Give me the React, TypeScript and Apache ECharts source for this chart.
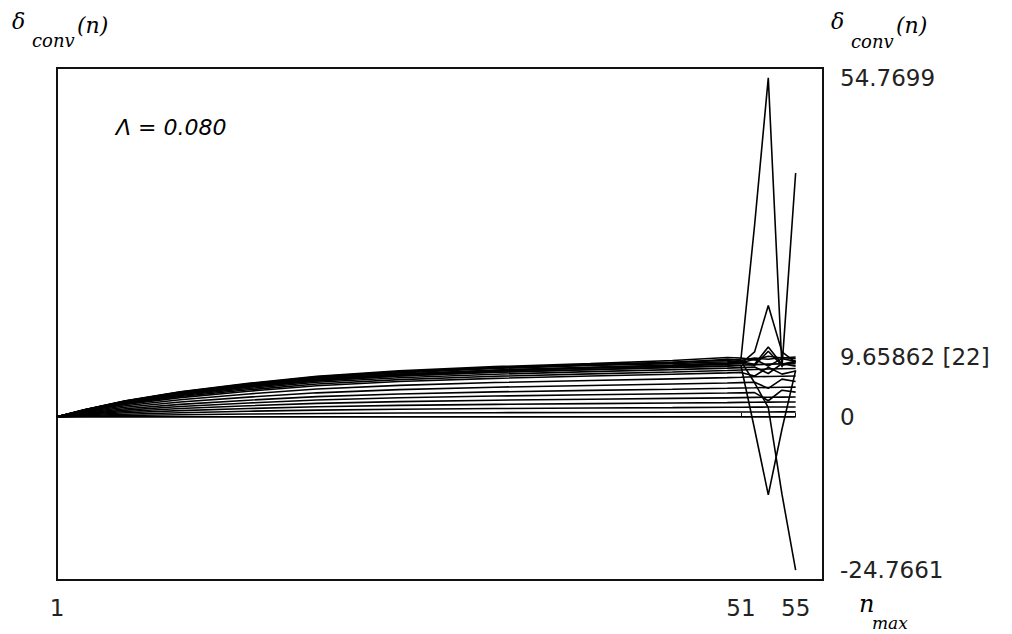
import React, { useEffect, useRef } from "react";
import * as echarts from "echarts";

// sample positions along n (x axis)
const nValues = [1, 3, 6, 10, 15, 20, 26, 33, 40, 46, 50, 51, 52, 53, 54, 55];

// stable convergence curves (mesh)
const curve01 = [0, 1.16, 2.61, 4.06, 5.41, 6.57, 7.44, 8.11, 8.6, 9.1, 9.6, 9.5, 9.2, 9.8, 9.5, 9.66];
const curve02 = [0, 1.13, 2.54, 3.95, 5.26, 6.39, 7.24, 7.9, 8.37, 8.74, 9.3, 9.12, 9.5, 9.31, 9.6, 9.4];
const curve03 = [0, 1.08, 2.43, 3.78, 5.04, 6.12, 6.93, 7.56, 8.01, 8.37, 8.64, 8.73, 9.3, 8.2, 9.4, 9.0];
const curve04 = [0, 1.03, 2.32, 3.61, 4.82, 5.85, 6.62, 7.22, 7.65, 8.0, 8.26, 8.34, 8.43, 8.51, 8.56, 8.6];
const curve05 = [0, 0.98, 2.21, 3.44, 4.59, 5.58, 6.31, 6.89, 7.3, 7.63, 7.87, 7.95, 8.04, 7.0, 8.6, 8.2];
const curve06 = [0, 0.94, 2.11, 3.28, 4.37, 5.3, 6.01, 6.55, 6.94, 7.25, 7.49, 7.57, 7.64, 7.72, 7.76, 7.8];
const curve07 = [0, 0.89, 2.0, 3.11, 4.14, 5.03, 5.7, 6.22, 6.59, 6.88, 7.1, 7.18, 6.6, 8.0, 6.9, 7.4];
const curve08 = [0, 0.79, 1.78, 2.77, 3.7, 4.49, 5.08, 5.54, 5.87, 6.14, 6.34, 6.4, 6.47, 6.53, 6.57, 6.6];
const curve09 = [0, 0.68, 1.54, 2.39, 3.19, 3.88, 4.39, 4.79, 5.07, 5.3, 5.47, 5.53, 5.59, 4.6, 6.1, 5.7];
const curve10 = [0, 0.58, 1.3, 2.02, 2.69, 3.26, 3.7, 4.03, 4.27, 4.46, 4.61, 4.66, 4.7, 4.75, 4.78, 4.8];
const curve11 = [0, 0.48, 1.08, 1.68, 2.24, 2.72, 3.08, 3.36, 3.56, 3.72, 3.84, 3.88, 3.92, 2.6, 4.3, 4.0];
const curve12 = [0, 0.38, 0.86, 1.34, 1.79, 2.18, 2.46, 2.69, 2.85, 2.98, 3.07, 3.1, 3.14, 3.17, 3.18, 3.2];
const curve13 = [0, 0.29, 0.65, 1.01, 1.34, 1.63, 1.85, 2.02, 2.14, 2.23, 2.3, 2.33, 2.35, 2.38, 2.39, 2.4];
const curve14 = [0, 0.19, 0.43, 0.67, 0.9, 1.09, 1.23, 1.34, 1.42, 1.49, 1.54, 1.55, 1.57, 1.58, 1.59, 1.6];
const curve15 = [0, 0.1, 0.22, 0.34, 0.45, 0.54, 0.62, 0.67, 0.71, 0.74, 0.77, 0.78, 0.78, 0.79, 0.8, 0.8];
const curve16 = [0, 0, 0, 0, 0, 0, 0, 0, 0, 0, 0, 0, 0, 0, 0, 0];

// unstable curves at large n
const curveA = [0, 1.14, 2.57, 4.0, 5.32, 6.46, 7.32, 7.98, 8.46, 8.84, 9.12, 9.3, 31.0, 54.7699, 8.0, 39.4];
const curveB = [0, 1.1, 2.5, 3.9, 5.2, 6.3, 7.1, 7.8, 8.3, 8.6, 8.9, 9.0, 5.5, 1.5, -12.5, -24.7661];
const curveC = [0, 1.0, 2.3, 3.6, 4.8, 5.8, 6.6, 7.2, 7.6, 8.0, 8.2, 8.3, -2.0, -12.6, -2.0, 7.5];
const curveD = [0, 1.05, 2.4, 3.7, 4.95, 6.0, 6.8, 7.4, 7.9, 8.2, 8.5, 8.6, 10.5, 18.0, 10.5, 8.8];
const curveE = [0, 1.07, 2.42, 3.75, 5.0, 6.05, 6.85, 7.5, 7.95, 8.3, 8.7, 8.9, 8.5, 11.3, 8.5, 9.0];
const curveE2 = [0, 1.06, 2.41, 3.72, 4.98, 6.02, 6.82, 7.45, 7.92, 8.25, 8.6, 8.7, 8.3, 10.6, 8.3, 8.9];

const curves = [
  curve01, curve02, curve03, curve04, curve05, curve06, curve07, curve08,
  curve09, curve10, curve11, curve12, curve13, curve14, curve15, curve16,
  curveA, curveB, curveC, curveD, curveE, curveE2,
];

// axis ticks
const xTickValues = [1, 51, 55];
const xTickLabels = ["1", "51", "55"];
const yTickValues = [-24.7661, 0, 9.65862, 54.7699];
const yTickLabels = ["-24.7661", "0", "9.65862 [22]", "54.7699"];

const xMin = 1;
const xMax = 57;
const yMin = -26.3661;
const yMax = 56.3699;

export default function App() {
  const ref = useRef<HTMLDivElement>(null);

  useEffect(() => {
    if (!ref.current) return;
    const chart = echarts.init(ref.current, null, { renderer: "svg" });

    const serif = "'DejaVu Serif', serif";
    const labelFont = "'DejaVu Sans', sans-serif";

    const series = curves.map((vals, i) => ({
      type: "line",
      name: "c" + i,
      data: nValues.map((n, j) => [n, vals[j]]),
      showSymbol: false,
      symbol: "none",
      silent: true,
      lineStyle: { color: "#000", width: 1.6 },
    }));

    const txt = (
      text: string,
      x: number,
      y: number,
      size: number,
      family: string,
      italic = true
    ) => ({
      type: "text",
      silent: true,
      style: {
        text,
        x,
        y,
        fill: "#000",
        fontSize: size,
        fontFamily: family,
        fontStyle: italic ? "italic" : "normal",
        textAlign: "left",
        textVerticalAlign: "middle",
        verticalAlign: "middle",
      },
    });

    chart.setOption({
      animation: false,
      backgroundColor: "#fff",
      grid: {
        left: 57,
        right: 189,
        top: 68,
        bottom: 54,
        show: true,
        borderColor: "#111",
        borderWidth: 2,
        backgroundColor: "transparent",
      },
      xAxis: {
        type: "value",
        min: xMin,
        max: xMax,
        axisLine: { show: false },
        splitLine: { show: false },
        axisTick: {
          show: true,
          inside: true,
          length: 4,
          customValues: xTickValues,
          lineStyle: { color: "#111" },
        },
        axisLabel: {
          show: true,
          customValues: xTickValues,
          margin: 16,
          fontSize: 23,
          fontFamily: labelFont,
          color: "#222",
          formatter: (v: number) => {
            const i = xTickValues.findIndex((t) => Math.abs(t - v) < 1e-6);
            return i >= 0 ? xTickLabels[i] : "";
          },
        },
      },
      yAxis: {
        type: "value",
        position: "right",
        min: yMin,
        max: yMax,
        axisLine: { show: false },
        splitLine: { show: false },
        axisTick: { show: false },
        axisLabel: {
          show: true,
          customValues: yTickValues,
          margin: 17,
          fontSize: 23,
          fontFamily: labelFont,
          color: "#222",
          padding: [6, 0, 0, 0],
          formatter: (v: number) => {
            const i = yTickValues.findIndex((t) => Math.abs(t - v) < 1e-4);
            return i >= 0 ? yTickLabels[i] : "";
          },
        },
      },
      graphic: [
        // left y title
        txt("δ", 12, 21, 22, serif),
        txt("conv", 32, 40, 18, serif),
        txt("(n)", 77, 25, 22, serif),
        // right y title
        txt("δ", 831, 21, 22, serif),
        txt("conv", 851, 41, 18, serif),
        txt("(n)", 896, 25, 22, serif),
        // parameter annotation
        txt("Λ = 0.080", 116, 127, 22, labelFont),
        // x title
        txt("n", 859, 604, 24, serif),
        txt("max", 872, 623, 17, serif),
      ],
      series,
    });

    return () => chart.dispose();
  }, []);

  return (
    <div
      ref={ref}
      style={{ position: "fixed", left: 0, top: 0, width: 1012, height: 634, background: "#fff" }}
    />
  );
}
